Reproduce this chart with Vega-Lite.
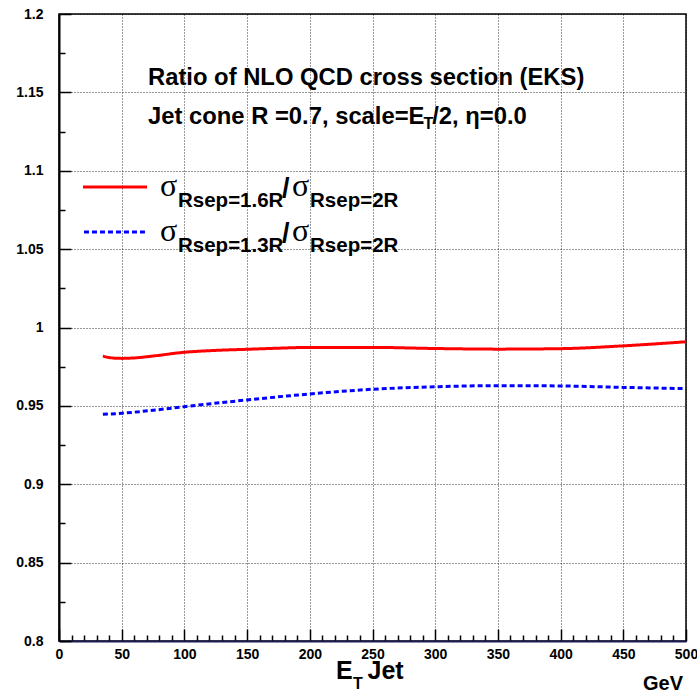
{
  "$schema": "https://vega.github.io/schema/vega-lite/v6.json",
  "width": 627,
  "height": 627,
  "autosize": "none",
  "padding": {"left": 59, "top": 14, "right": 11, "bottom": 53},
  "background": "white",
  "config": {
    "view": {"stroke": "black", "strokeWidth": 1.5},
    "font": "Liberation Sans",
    "axis": {"labelFont": "Liberation Sans", "labelFontWeight": "bold", "labelFontSize": 14, "labelColor": "black", "domainColor": "black", "domainWidth": 2, "tickColor": "black", "tickWidth": 1.5}
  },
  "resolve": {"axis": {"x": "independent", "y": "independent"}},
  "layer": [
    {
      "data": {"values": [
        {"E": 35, "r": 0.9818, "s": "1.6R"}, {"E": 40, "r": 0.9808, "s": "1.6R"}, {"E": 50, "r": 0.9803, "s": "1.6R"}, {"E": 60, "r": 0.9806, "s": "1.6R"}, {"E": 75, "r": 0.9818, "s": "1.6R"}, {"E": 100, "r": 0.9842, "s": "1.6R"}, {"E": 125, "r": 0.9854, "s": "1.6R"}, {"E": 150, "r": 0.9861, "s": "1.6R"}, {"E": 175, "r": 0.9868, "s": "1.6R"}, {"E": 200, "r": 0.9873, "s": "1.6R"}, {"E": 250, "r": 0.9873, "s": "1.6R"}, {"E": 300, "r": 0.9866, "s": "1.6R"}, {"E": 350, "r": 0.9862, "s": "1.6R"}, {"E": 400, "r": 0.9865, "s": "1.6R"}, {"E": 450, "r": 0.9883, "s": "1.6R"}, {"E": 500, "r": 0.9909, "s": "1.6R"},
        {"E": 35, "r": 0.9446, "s": "1.3R"}, {"E": 50, "r": 0.9453, "s": "1.3R"}, {"E": 75, "r": 0.9472, "s": "1.3R"}, {"E": 100, "r": 0.9495, "s": "1.3R"}, {"E": 150, "r": 0.9538, "s": "1.3R"}, {"E": 200, "r": 0.9576, "s": "1.3R"}, {"E": 250, "r": 0.9606, "s": "1.3R"}, {"E": 300, "r": 0.9622, "s": "1.3R"}, {"E": 350, "r": 0.9629, "s": "1.3R"}, {"E": 400, "r": 0.9627, "s": "1.3R"}, {"E": 450, "r": 0.9618, "s": "1.3R"}, {"E": 500, "r": 0.9610, "s": "1.3R"}
      ]},
      "mark": {"type": "line", "strokeWidth": 3, "interpolate": "monotone"},
      "encoding": {
        "x": {"field": "E", "type": "quantitative", "scale": {"domain": [0, 500], "nice": false, "zero": false},
              "axis": {"orient": "bottom", "title": null, "domainColor": "#1c1c54",
                       "values": [0,10,20,30,40,50,60,70,80,90,100,110,120,130,140,150,160,170,180,190,200,210,220,230,240,250,260,270,280,290,300,310,320,330,340,350,360,370,380,390,400,410,420,430,440,450,460,470,480,490,500],
                       "labelExpr": "datum.value % 50 === 0 ? datum.label : ''", "labelOverlap": false,
                       "grid": true, "gridDash": [1, 2], "gridColor": "black",
                       "gridOpacity": {"condition": {"test": "datum.value % 50 === 0", "value": 0.8}, "value": 0},
                       "tickSize": {"condition": {"test": "datum.value % 50 === 0", "value": -12}, "value": -6},
                       "labelPadding": 18, "labelFlush": false}},
        "y": {"field": "r", "type": "quantitative", "scale": {"domain": [0.8, 1.2], "nice": false, "zero": false},
              "axis": {"orient": "left", "title": null,
                       "values": [0.8, 0.825, 0.85, 0.875, 0.9, 0.925, 0.95, 0.975, 1, 1.025, 1.05, 1.075, 1.1, 1.125, 1.15, 1.175, 1.2],
                       "format": ".2~f",
                       "labelExpr": "abs(datum.value*20 - round(datum.value*20)) < 0.001 ? datum.label : ''", "labelOverlap": false,
                       "grid": true, "gridDash": [1, 2], "gridColor": "black",
                       "gridOpacity": {"condition": {"test": "abs(datum.value*20 - round(datum.value*20)) < 0.001", "value": 0.8}, "value": 0},
                       "tickSize": {"condition": {"test": "abs(datum.value*20 - round(datum.value*20)) < 0.001", "value": -12}, "value": -6},
                       "labelPadding": 28, "labelFlush": false}},
        "color": {"field": "s", "type": "nominal", "scale": {"domain": ["1.6R", "1.3R"], "range": ["#ff0000", "#0000ff"]}, "legend": null},
        "strokeDash": {"field": "s", "type": "nominal", "scale": {"domain": ["1.6R", "1.3R"], "range": [[1, 0], [5, 3]]}, "legend": null}
      }
    },
    {
      "data": {"values": [
        {"x1": 19.1, "x2": 70.2, "y": 1.0896, "s": "1.6R"},
        {"x1": 19.9, "x2": 70.2, "y": 1.0609, "s": "1.3R"}
      ]},
      "mark": {"type": "rule", "strokeWidth": 3},
      "encoding": {
        "x": {"field": "x1", "type": "quantitative", "axis": null},
        "x2": {"field": "x2"},
        "y": {"field": "y", "type": "quantitative", "axis": null},
        "color": {"field": "s", "type": "nominal", "legend": null},
        "strokeDash": {"field": "s", "type": "nominal", "legend": null}
      }
    },
    {
      "data": {"values": [
        {"x": 70.97, "y": 1.1547, "t": "Ratio of NLO QCD cross section (EKS)"},
        {"x": 70.97, "y": 1.1298, "t": "Jet cone R =0.7, scale=E"},
        {"x": 297.6, "y": 1.1298, "t": "/2, η=0.0"}
      ]},
      "mark": {"type": "text", "align": "left", "baseline": "alphabetic", "fontSize": 23.8, "fontWeight": "bold", "font": "Liberation Sans"},
      "encoding": {"x": {"field": "x", "type": "quantitative", "axis": null}, "y": {"field": "y", "type": "quantitative", "axis": null}, "text": {"field": "t"}}
    },
    {
      "data": {"values": [
        {"x": 290.6, "y": 1.1266, "t": "T"},
        {"x": 234.4, "y": 0.7694, "t": "T"}
      ]},
      "mark": {"type": "text", "align": "left", "baseline": "alphabetic", "fontSize": 16, "fontWeight": "bold", "font": "Liberation Sans"},
      "encoding": {"x": {"field": "x", "type": "quantitative", "axis": null}, "y": {"field": "y", "type": "quantitative", "axis": null}, "text": {"field": "t"}}
    },
    {
      "data": {"values": [
        {"x": 220.9, "y": 0.7758, "t": "E"},
        {"x": 246.0, "y": 0.7758, "t": "Jet"}
      ]},
      "mark": {"type": "text", "align": "left", "baseline": "alphabetic", "fontSize": 25, "fontWeight": "bold", "font": "Liberation Sans"},
      "encoding": {"x": {"field": "x", "type": "quantitative", "axis": null}, "y": {"field": "y", "type": "quantitative", "axis": null}, "text": {"field": "t"}}
    },
    {
      "data": {"values": [
        {"x": 465.7, "y": 0.7685, "t": "GeV"}
      ]},
      "mark": {"type": "text", "align": "left", "baseline": "alphabetic", "fontSize": 20, "fontWeight": "bold", "font": "Liberation Sans"},
      "encoding": {"x": {"field": "x", "type": "quantitative", "axis": null}, "y": {"field": "y", "type": "quantitative", "axis": null}, "text": {"field": "t"}}
    },
    {
      "data": {"values": [
        {"x": 80.5, "y": 1.0839, "t": "σ"},
        {"x": 185.8, "y": 1.0839, "t": "σ"},
        {"x": 80.5, "y": 1.0552, "t": "σ"},
        {"x": 185.8, "y": 1.0552, "t": "σ"}
      ]},
      "mark": {"type": "text", "align": "left", "baseline": "alphabetic", "fontSize": 32, "font": "Liberation Serif"},
      "encoding": {"x": {"field": "x", "type": "quantitative", "axis": null}, "y": {"field": "y", "type": "quantitative", "axis": null}, "text": {"field": "t"}}
    },
    {
      "data": {"values": [
        {"x": 177.8, "y": 1.0833, "t": "/"},
        {"x": 177.8, "y": 1.0546, "t": "/"}
      ]},
      "mark": {"type": "text", "align": "left", "baseline": "alphabetic", "fontSize": 27, "fontWeight": "bold", "font": "Liberation Sans"},
      "encoding": {"x": {"field": "x", "type": "quantitative", "axis": null}, "y": {"field": "y", "type": "quantitative", "axis": null}, "text": {"field": "t"}}
    },
    {
      "data": {"values": [
        {"x": 94.9, "y": 1.0769, "t": "Rsep=1.6R"},
        {"x": 200.2, "y": 1.0769, "t": "Rsep=2R"},
        {"x": 94.9, "y": 1.0482, "t": "Rsep=1.3R"},
        {"x": 200.2, "y": 1.0482, "t": "Rsep=2R"}
      ]},
      "mark": {"type": "text", "align": "left", "baseline": "alphabetic", "fontSize": 20.5, "fontWeight": "bold", "font": "Liberation Sans"},
      "encoding": {"x": {"field": "x", "type": "quantitative", "axis": null}, "y": {"field": "y", "type": "quantitative", "axis": null}, "text": {"field": "t"}}
    }
  ]
}
